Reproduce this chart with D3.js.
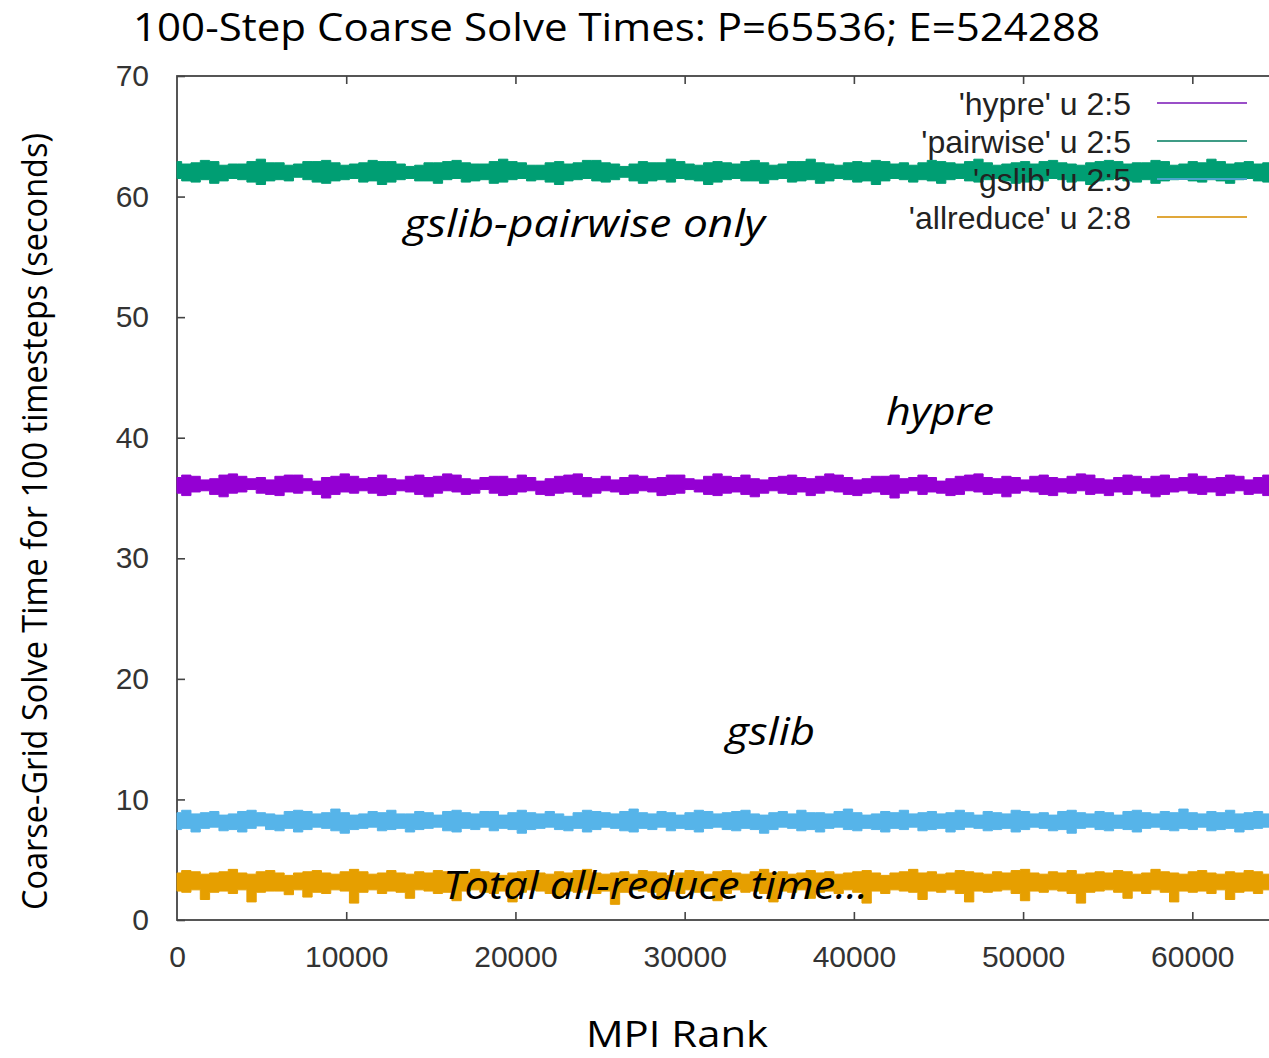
<!DOCTYPE html>
<html>
<head>
<meta charset="utf-8">
<script src="https://cdn.jsdelivr.net/npm/d3@7"></script>
<style>
  html, body { margin: 0; padding: 0; background: #fff; }
  svg { display: block; }
</style>
</head>
<body>
<script>
// ---------------- DATA ----------------
const titleText = "100-Step Coarse Solve Times: P=65536; E=524288";
const xLabel = "MPI Rank";
const yLabel = "Coarse-Grid Solve Time for 100 timesteps (seconds)";
const xTicks = [0, 10000, 20000, 30000, 40000, 50000, 60000];
const yTicks = [0, 10, 20, 30, 40, 50, 60, 70];
const seriesNames = ["hypre", "pairwise", "gslib", "allreduce"];
const keyLabels = ["'hypre' u 2:5", "'pairwise' u 2:5", "'gslib' u 2:5", "'allreduce' u 2:8"];
const seriesColors = ["#9400d3", "#009e73", "#56b4e9", "#e69f00"];
const keySampleColors = ["#9a4fc8", "#3f9c86", "#4aa6c9", "#e0a73a"];
const annotations = ["gslib-pairwise only", "hypre", "gslib", "Total all-reduce time…"];

// MPI rank bins (0 .. 65536), 120 bins; per bin the max (upper) and min (lower) solve time
const rankMax = 65536;
const binCount = 120;

const pairwiseUpper = [
62.9,62.7,62.8,63.0,62.9,62.6,62.7,62.7,62.9,63.1,
62.8,62.8,62.6,62.7,62.9,62.9,63.0,62.8,62.6,62.7,
62.8,63.0,62.9,62.9,62.7,62.5,62.6,62.8,62.8,62.9,
63.0,62.8,62.7,62.7,62.9,63.1,62.9,62.8,62.6,62.6,
62.8,62.9,62.7,62.8,63.0,63.0,62.8,62.7,62.5,62.7,
62.9,62.8,62.8,63.1,62.9,62.7,62.6,62.8,62.9,62.8,
62.7,62.9,63.0,62.8,62.6,62.7,62.9,62.9,63.1,62.8,
62.7,62.6,62.8,62.9,62.8,63.0,62.9,62.7,62.8,62.6,
62.8,63.0,62.9,62.8,62.7,62.9,63.1,62.8,62.6,62.7,
62.8,62.9,62.7,62.9,63.0,62.8,62.7,62.6,62.8,62.9,
63.0,62.9,62.7,62.8,62.8,63.0,62.9,62.6,62.7,62.9,
62.8,63.1,62.9,62.7,62.8,62.9,62.7,62.8,63.0,62.8];
const pairwiseLower = [
61.5,61.3,61.2,61.4,61.1,61.3,61.5,61.4,61.2,61.0,
61.3,61.4,61.3,61.6,61.4,61.2,61.1,61.3,61.4,61.5,
61.2,61.3,61.0,61.2,61.4,61.5,61.3,61.3,61.1,61.4,
61.5,61.2,61.3,61.4,61.1,61.2,61.4,61.5,61.3,61.4,
61.2,61.0,61.3,61.4,61.5,61.3,61.2,61.4,61.6,61.3,
61.1,61.3,61.4,61.2,61.5,61.4,61.3,61.0,61.2,61.4,
61.5,61.3,61.3,61.1,61.4,61.5,61.2,61.3,61.4,61.1,
61.3,61.5,61.4,61.2,61.3,61.0,61.3,61.5,61.4,61.2,
61.4,61.3,61.1,61.4,61.5,61.3,61.2,61.4,61.5,61.3,
61.1,61.2,61.4,61.3,61.5,61.4,61.2,61.3,61.0,61.3,
61.4,61.5,61.3,61.2,61.4,61.1,61.3,61.4,61.5,61.3,
61.2,61.4,61.3,61.1,61.4,61.5,61.3,61.2,61.4,61.3];

const hypreUpper = [
36.7,36.9,36.8,36.5,36.6,36.9,37.0,36.8,36.6,36.7,
36.5,36.8,36.9,36.9,36.6,36.4,36.7,36.8,37.0,36.8,
36.6,36.7,36.9,36.6,36.5,36.8,36.9,36.7,36.8,37.0,
36.9,36.6,36.5,36.7,36.8,36.8,36.6,36.9,36.7,36.4,
36.6,36.8,36.9,37.0,36.7,36.6,36.8,36.5,36.7,36.9,
36.8,36.6,36.7,36.9,36.9,36.6,36.5,36.8,37.0,36.8,
36.7,36.9,36.6,36.5,36.7,36.8,36.9,36.7,36.6,36.8,
37.0,36.9,36.7,36.5,36.6,36.8,36.8,36.9,36.6,36.7,
36.9,36.7,36.4,36.6,36.8,36.9,37.0,36.7,36.6,36.8,
36.7,36.5,36.8,36.9,36.7,36.6,36.8,37.0,36.9,36.6,
36.5,36.7,36.9,36.8,36.6,36.8,36.9,36.6,36.7,37.0,
36.8,36.6,36.7,36.9,36.8,36.5,36.7,36.9,36.8,36.7];
const hypreLower = [
35.4,35.2,35.5,35.6,35.3,35.1,35.4,35.5,35.7,35.4,
35.3,35.2,35.5,35.4,35.6,35.3,35.0,35.3,35.5,35.4,
35.6,35.4,35.2,35.3,35.6,35.5,35.3,35.1,35.4,35.6,
35.5,35.3,35.4,35.7,35.4,35.2,35.3,35.5,35.6,35.3,
35.2,35.4,35.5,35.3,35.1,35.4,35.6,35.5,35.3,35.4,
35.6,35.5,35.2,35.3,35.4,35.7,35.5,35.3,35.2,35.4,
35.5,35.3,35.1,35.4,35.6,35.4,35.3,35.5,35.2,35.4,
35.6,35.5,35.3,35.2,35.4,35.5,35.3,35.0,35.4,35.6,
35.3,35.5,35.4,35.2,35.3,35.6,35.5,35.3,35.4,35.1,
35.4,35.6,35.5,35.3,35.2,35.5,35.4,35.6,35.3,35.4,
35.2,35.5,35.3,35.6,35.4,35.1,35.3,35.5,35.6,35.4,
35.3,35.5,35.2,35.4,35.6,35.3,35.4,35.2,35.5,35.4];

const gslibUpper = [
8.9,9.1,8.8,8.9,9.0,8.7,8.8,9.0,9.1,8.9,
8.8,8.7,9.0,9.1,9.0,8.8,8.9,9.2,8.9,8.7,
8.8,9.0,8.9,9.1,8.8,8.8,9.0,8.9,8.7,9.0,
9.1,8.9,8.8,9.0,9.0,8.7,8.9,9.1,8.9,8.8,
9.0,8.8,8.6,8.9,9.1,9.0,8.9,8.8,9.0,9.2,
8.9,8.8,9.0,8.9,8.7,8.9,9.1,9.0,8.8,8.9,
9.0,9.1,8.8,8.7,8.9,9.0,8.8,9.1,8.9,8.9,
8.8,9.0,9.2,8.9,8.7,8.8,9.0,8.9,9.1,8.8,
8.9,9.0,8.8,8.9,9.1,8.9,8.7,9.0,8.9,8.8,
9.1,9.0,8.8,8.9,8.7,9.0,9.1,8.9,8.8,9.0,
8.9,8.7,9.0,9.1,8.9,8.8,9.0,8.9,9.2,8.9,
8.8,9.0,8.9,9.1,8.8,8.9,9.0,8.8,8.9,9.0];
const gslibLower = [
7.5,7.6,7.3,7.6,7.7,7.4,7.5,7.3,7.6,7.8,
7.5,7.4,7.6,7.3,7.5,7.7,7.6,7.4,7.2,7.5,
7.6,7.7,7.4,7.5,7.6,7.3,7.5,7.6,7.7,7.4,
7.3,7.6,7.5,7.7,7.4,7.6,7.5,7.2,7.5,7.6,
7.7,7.5,7.4,7.6,7.3,7.5,7.7,7.6,7.4,7.3,
7.6,7.5,7.7,7.4,7.6,7.5,7.3,7.6,7.7,7.5,
7.4,7.6,7.5,7.2,7.5,7.7,7.6,7.4,7.5,7.3,
7.6,7.7,7.5,7.4,7.6,7.5,7.3,7.6,7.5,7.7,
7.4,7.5,7.6,7.3,7.5,7.7,7.6,7.4,7.5,7.6,
7.3,7.5,7.7,7.6,7.4,7.5,7.2,7.6,7.7,7.5,
7.4,7.6,7.5,7.3,7.6,7.7,7.5,7.4,7.6,7.5,
7.7,7.4,7.5,7.6,7.3,7.5,7.6,7.7,7.4,7.6];

const allreduceUpper = [
3.9,4.1,4.0,3.8,3.9,4.0,4.2,3.9,3.8,4.0,
4.1,3.9,3.7,3.9,4.0,4.1,3.9,3.8,4.0,4.2,
4.0,3.8,3.9,4.1,3.9,3.8,4.0,3.9,4.1,4.0,
3.8,3.9,4.2,4.0,3.9,3.7,3.9,4.0,4.1,3.9,
3.8,4.0,3.9,4.1,4.2,3.9,3.8,3.9,4.0,3.8,
4.1,4.0,3.9,3.7,3.9,4.1,4.0,3.8,4.0,4.1,
3.9,3.8,4.0,4.2,3.9,4.0,3.8,3.9,4.1,3.9,
4.0,3.8,3.9,4.0,4.1,3.9,3.7,3.9,4.0,4.2,
3.9,4.0,3.8,3.9,4.1,4.0,3.9,3.8,4.0,3.9,
4.1,4.2,3.9,3.8,4.0,3.9,4.1,3.8,3.9,4.0,
3.9,4.1,4.0,3.8,3.9,4.2,4.0,3.9,3.8,4.0,
4.1,3.9,3.8,4.0,3.9,4.1,4.0,3.8,3.9,4.0];
const allreduceLower = [
2.4,2.3,2.5,1.7,2.3,2.4,2.2,2.5,1.5,2.3,
2.4,2.4,2.1,2.5,1.9,2.3,2.2,2.5,2.4,1.4,
2.3,2.5,2.2,2.4,2.3,1.8,2.5,2.4,2.2,2.3,
1.6,2.4,2.5,2.3,2.2,2.4,1.5,2.3,2.5,2.4,
2.2,1.9,2.4,2.3,2.5,2.2,2.4,1.3,2.3,2.5,
2.4,2.3,1.7,2.4,2.2,2.5,2.3,2.4,1.6,2.2,
2.5,2.3,2.4,2.2,1.5,2.4,2.3,2.5,1.8,2.3,
2.4,2.2,2.5,2.3,1.4,2.4,2.2,2.5,2.4,2.3,
1.7,2.4,2.3,2.5,2.2,1.5,2.4,2.3,2.4,2.5,
2.2,1.6,2.4,2.3,2.5,2.4,2.2,1.4,2.3,2.4,
2.5,2.3,1.8,2.4,2.2,2.5,2.3,1.5,2.4,2.3,
2.4,2.2,2.5,1.7,2.3,2.4,2.2,2.5,1.6,2.4];

const upperBySeries = [hypreUpper, pairwiseUpper, gslibUpper, allreduceUpper];
const lowerBySeries = [hypreLower, pairwiseLower, gslibLower, allreduceLower];

// ---------------- CHART ----------------
const W = 1269, H = 1058;
const svg = d3.select("body").append("svg").attr("width", W).attr("height", H);
svg.append("rect").attr("width", W).attr("height", H).attr("fill", "#fff");

const x = d3.scaleLinear().domain([0, rankMax]).range([177, 1286]);
const y = d3.scaleLinear().domain([0, 70]).range([920, 76]);

const axisColor = "#444";
const tickFont = "'Liberation Sans', Arial, sans-serif";
const calibriLike = "'Open Sans', 'Noto Sans', sans-serif";

// axes
const gL = svg.append("g").attr("transform", `translate(${x(0)},0)`)
  .call(d3.axisLeft(y).tickValues(yTicks).tickSizeInner(-8).tickSizeOuter(0).tickPadding(28).tickFormat(d3.format("d")));
const gB = svg.append("g").attr("transform", `translate(0,${y(0)})`)
  .call(d3.axisBottom(x).tickValues(xTicks).tickSizeInner(-8).tickSizeOuter(0).tickPadding(26).tickFormat(d3.format("d")));
const gT = svg.append("g").attr("transform", `translate(0,${y(70)})`)
  .call(d3.axisTop(x).tickValues(xTicks.slice(1)).tickSizeInner(-8).tickSizeOuter(0).tickFormat(""));
[gL, gB, gT].forEach(g => {
  g.select(".domain").remove();
  g.selectAll(".tick line").attr("stroke", axisColor).attr("stroke-width", 1.6);
  g.selectAll(".tick text").attr("fill", "#333").style("font-family", tickFont).style("font-size", "30px");
});
gB.selectAll(".tick").filter(d => d === 0).select("line").remove();

// frame
svg.append("rect")
  .attr("x", x(0)).attr("y", y(70))
  .attr("width", x(rankMax) - x(0)).attr("height", y(0) - y(70))
  .attr("fill", "none").attr("stroke", axisColor).attr("stroke-width", 1.8);

// key + series (gnuplot order: key entry then curve, per plot)
const binX = d3.range(binCount).map(i => i * rankMax / (binCount - 1));
const area = d3.area()
  .x((d, i) => x(binX[i]))
  .y0(d => y(d[0]))
  .y1(d => y(d[1]))
  .curve(d3.curveStep);

const keyTextX = 1131, keyLineX0 = 1157, keyLineX1 = 1247;
const keyRowY = [103, 141, 179, 217];

seriesNames.forEach((name, s) => {
  const kg = svg.append("g").attr("class", "key-" + name);
  kg.append("text")
    .attr("x", keyTextX).attr("y", keyRowY[s]).attr("dy", "0.36em")
    .attr("text-anchor", "end")
    .style("font-family", tickFont).style("font-size", "32px").attr("fill", "#222")
    .text(keyLabels[s]);
  kg.append("line")
    .attr("x1", keyLineX0).attr("x2", keyLineX1)
    .attr("y1", keyRowY[s]).attr("y2", keyRowY[s])
    .attr("stroke", keySampleColors[s]).attr("stroke-width", 2.2);

  const band = lowerBySeries[s].map((lo, i) => [lo, upperBySeries[s][i]]);
  svg.append("path")
    .datum(band)
    .attr("d", area)
    .attr("fill", seriesColors[s])
    .attr("stroke", seriesColors[s])
    .attr("stroke-width", 1)
    .attr("stroke-linejoin", "miter");
});

// title & axis labels
svg.append("text")
  .attr("x", 133).attr("y", 41)
  .attr("textLength", 967).attr("lengthAdjust", "spacingAndGlyphs")
  .style("font-family", calibriLike).style("font-size", "38px").attr("fill", "#000")
  .text(titleText);

svg.append("text")
  .attr("x", 586).attr("y", 1047)
  .attr("textLength", 182).attr("lengthAdjust", "spacingAndGlyphs")
  .style("font-family", calibriLike).style("font-size", "36px").attr("fill", "#000")
  .text(xLabel);

svg.append("text")
  .attr("transform", "translate(47,521.5) rotate(-90)")
  .attr("text-anchor", "middle")
  .attr("textLength", 777).attr("lengthAdjust", "spacingAndGlyphs")
  .style("font-family", calibriLike).style("font-size", "34px").attr("fill", "#000")
  .text(yLabel);

// italic annotations
const annX = [404, 886, 726, 443];
const annY = [237, 425, 745, 899];
const annLen = [361, 108, 89, 425];
annotations.forEach((t, i) => {
  svg.append("text")
    .attr("x", annX[i]).attr("y", annY[i])
    .attr("textLength", annLen[i]).attr("lengthAdjust", "spacingAndGlyphs")
    .style("font-family", calibriLike).style("font-style", "italic")
    .style("font-size", "38px").attr("fill", "#000")
    .text(t);
});
</script>
</body>
</html>
